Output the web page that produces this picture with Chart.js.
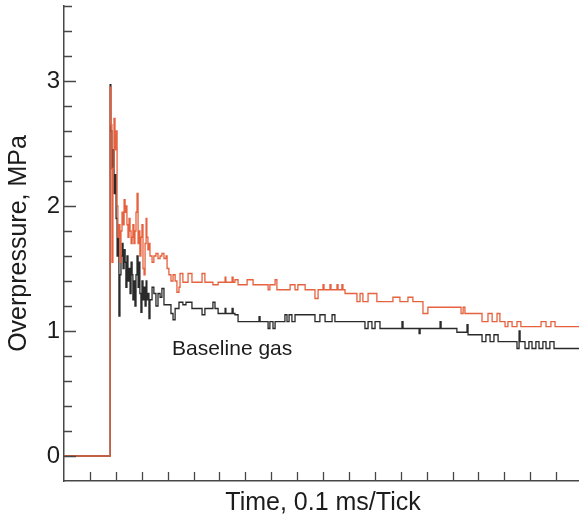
<!DOCTYPE html>
<html>
<head>
<meta charset="utf-8">
<title>Overpressure vs time</title>
<script src="https://cdn.jsdelivr.net/npm/chart.js@4/dist/chart.umd.min.js"></script>
<style>
  html, body { margin: 0; padding: 0; overflow: hidden; background: #fff; }
  #wrap { width: 590px; height: 517px; }
</style>
</head>
<body>
<div id="wrap"><canvas id="c" width="590" height="517"></canvas></div>
<script>
// Time in ticks (1 tick = 0.1 ms), overpressure in MPa.
const redTime = [
  0, 1.78, 1.81, 1.85, 1.89, 1.93, 1.97, 2.01, 2.05, 2.08, 2.12, 2.16, 2.20, 2.24, 2.28, 2.32,
  2.36, 2.39, 2.43, 2.47, 2.51, 2.55, 2.59, 2.63, 2.66, 2.70, 2.74, 2.78, 2.82, 2.86, 2.90, 2.93,
  2.97, 3.01, 3.05, 3.09, 3.13, 3.17, 3.20, 3.24, 3.28, 3.32, 3.40, 3.47, 3.55, 3.63, 3.71, 3.78,
  3.86, 3.94, 3.98, 4.05, 4.13, 4.21, 4.29, 4.36, 4.44, 4.48, 4.59, 4.79, 4.94, 5.33, 5.44, 5.75,
  5.95, 6.22, 6.25, 6.49, 6.53, 6.60, 6.72, 7.07, 7.30, 7.88, 7.95, 8.15, 8.22, 8.73, 8.92, 9.03,
  9.31, 9.69, 9.81, 10.00, 10.04, 10.27, 10.31, 10.54, 10.58, 10.73, 10.77, 10.85, 11.31, 11.43,
  11.54, 11.74, 12.08, 12.70, 12.97, 13.28, 13.47, 13.86, 14.05, 15.33, 15.41, 15.48, 16.14, 16.37,
  16.53, 16.72, 16.83, 17.03, 17.14, 17.30, 17.49, 17.64, 18.42, 18.61, 18.80, 18.96, 20.0
];
const redPressure = [
  0, 2.95, 2.65, 1.55, 2.30, 2.70, 2.45, 2.60, 2.00, 1.75, 1.85, 1.55, 1.80, 1.95, 1.85, 2.05,
  1.95, 2.00, 1.85, 1.75, 1.90, 1.80, 1.70, 1.75, 1.85, 1.70, 1.80, 1.95, 2.10, 1.70, 1.80, 1.60,
  1.75, 1.85, 1.50, 1.45, 1.70, 1.90, 1.75, 1.65, 1.70, 1.60, 1.55, 1.60, 1.62, 1.58, 1.60, 1.62,
  1.58, 1.60, 1.50, 1.45, 1.40, 1.45, 1.40, 1.31, 1.35, 1.46, 1.39, 1.46, 1.39, 1.46, 1.39, 1.37,
  1.39, 1.43, 1.39, 1.43, 1.39, 1.41, 1.37, 1.41, 1.37, 1.33, 1.37, 1.41, 1.33, 1.37, 1.33, 1.37,
  1.33, 1.26, 1.33, 1.37, 1.33, 1.37, 1.33, 1.37, 1.33, 1.37, 1.33, 1.30, 1.235, 1.30,
  1.235, 1.30, 1.235, 1.27, 1.235, 1.27, 1.235, 1.14, 1.19, 1.14, 1.19, 1.14, 1.075, 1.14,
  1.075, 1.14, 1.075, 1.035, 1.075, 1.035, 1.075, 1.035, 1.075, 1.035, 1.075, 1.035, 1.035
];

const blackTime = [
  0, 1.78, 1.81, 1.85, 1.89, 1.93, 1.97, 2.01, 2.05, 2.08, 2.12, 2.16, 2.20, 2.24, 2.28, 2.32,
  2.36, 2.39, 2.43, 2.47, 2.51, 2.55, 2.59, 2.63, 2.66, 2.70, 2.74, 2.78, 2.82, 2.86, 2.90, 2.93,
  2.97, 3.01, 3.05, 3.09, 3.13, 3.17, 3.20, 3.24, 3.28, 3.32, 3.40, 3.47, 3.55, 3.63, 3.71, 3.78,
  3.86, 4.13, 4.21, 4.29, 4.44, 4.59, 4.71, 4.94, 5.33, 5.44, 5.75, 5.83, 5.95, 6.22, 6.25, 6.49,
  6.53, 6.60, 6.72, 7.53, 7.57, 7.88, 7.95, 8.07, 8.15, 8.53, 8.61, 8.69, 8.80, 8.92, 9.69, 9.88,
  10.08, 10.35, 10.46, 11.62, 11.74, 11.89, 12.01, 12.20, 13.05, 13.09, 13.71, 13.75, 14.52, 14.56,
  15.17, 15.56, 15.60, 16.14, 16.29, 16.45, 16.60, 16.76, 17.49, 17.57, 17.61, 17.80, 17.95, 18.07,
  18.22, 18.34, 18.49, 18.61, 18.76, 18.92, 20.0
];
const blackPressure = [
  0, 2.97, 2.60, 2.30, 2.45, 2.10, 2.25, 1.90, 1.60, 1.75, 1.12, 1.45, 1.60, 1.70, 1.50, 1.65,
  1.55, 1.35, 1.60, 1.40, 1.50, 1.30, 1.55, 1.45, 1.25, 1.40, 1.20, 1.45, 1.60, 1.35, 1.55, 1.30,
  1.15, 1.40, 1.25, 1.35, 1.20, 1.40, 1.25, 1.30, 1.10, 1.25, 1.35, 1.30, 1.20, 1.30, 1.27, 1.34,
  1.21, 1.14, 1.09, 1.18, 1.23, 1.21, 1.23, 1.18, 1.13, 1.18, 1.23, 1.18, 1.14, 1.18, 1.14, 1.18,
  1.14, 1.13, 1.075, 1.115, 1.075, 1.02, 1.075, 1.02, 1.075, 1.13, 1.075, 1.13, 1.075, 1.13, 1.075, 1.13,
  1.075, 1.13, 1.075, 1.02, 1.075, 1.02, 1.075, 1.02, 1.075, 1.02, 0.98, 1.02, 1.075, 1.02,
  0.99, 1.05, 0.97, 0.915, 0.97, 0.915, 0.97, 0.915, 0.86, 1.0, 0.915, 0.86, 0.915, 0.86,
  0.915, 0.86, 0.915, 0.86, 0.915, 0.86, 0.86
];

const yTickLabels = ['0', '1', '2', '3'];
const seriesLabel = 'Baseline gas';

const AXIS_COLOR = '#474747';
const TEXT_COLOR = '#1c1c1c';
const FONT = "'Liberation Sans', Arial, Helvetica, sans-serif";

const toPoints = (xs, ys) => xs.map((t, i) => ({ x: t, y: ys[i] }));

// Inward tick marks on both axes plus the in-plot series label.
const inwardTicks = {
  id: 'inwardTicks',
  afterDraw(chart) {
    const { ctx, chartArea, scales: { x, y } } = chart;
    ctx.save();
    ctx.strokeStyle = AXIS_COLOR;
    ctx.lineWidth = 1.3;
    ctx.beginPath();
    y.ticks.forEach(t => {
      if (t.value < -1e-6) return;
      const py = Math.round(y.getPixelForValue(t.value)) + 0.5;
      const major = Math.abs(t.value - Math.round(t.value)) < 1e-6;
      ctx.moveTo(chartArea.left, py);
      ctx.lineTo(chartArea.left + (major ? 12 : 8), py);
    });
    x.ticks.forEach(t => {
      if (t.value <= x.min + 1e-6) return;
      const px = Math.round(x.getPixelForValue(t.value)) + 0.5;
      ctx.moveTo(px, chartArea.bottom);
      ctx.lineTo(px, chartArea.bottom - 9);
    });
    ctx.stroke();

    ctx.fillStyle = TEXT_COLOR;
    ctx.font = '21px ' + FONT;
    ctx.textAlign = 'left';
    ctx.textBaseline = 'alphabetic';
    ctx.fillText(seriesLabel, x.getPixelForValue(4.17), y.getPixelForValue(0.81));
    ctx.restore();
  }
};

new Chart(document.getElementById('c'), {
  type: 'line',
  data: {
    datasets: [
      {
        label: 'Modified gas',
        data: toPoints(redTime, redPressure),
        borderColor: '#e6623f',
        borderWidth: 1.3,
        stepped: true,
        pointRadius: 0,
        fill: false
      },
      {
        label: seriesLabel,
        data: toPoints(blackTime, blackPressure),
        borderColor: '#2a2a2a',
        borderWidth: 1.3,
        stepped: true,
        pointRadius: 0,
        fill: false
      }
    ]
  },
  options: {
    responsive: false,
    animation: false,
    events: [],
    layout: { padding: { top: 6, right: 8, left: 0, bottom: 0 } },
    plugins: { legend: { display: false }, tooltip: { enabled: false } },
    scales: {
      x: {
        type: 'linear',
        min: 0,
        max: 20,
        grid: { display: false, drawTicks: false },
        border: { display: true, color: AXIS_COLOR, width: 1.5 },
        ticks: { display: false, stepSize: 1 },
        title: {
          display: true,
          text: 'Time, 0.1 ms/Tick',
          color: TEXT_COLOR,
          font: { family: FONT, size: 25, lineHeight: 1 },
          padding: { top: 0, bottom: 1 }
        },
        afterFit: s => { s.height = 36; s.paddingLeft = 0; s.paddingRight = 0; }
      },
      y: {
        type: 'linear',
        min: -0.2,
        max: 3.6,
        grid: { display: false, drawTicks: false },
        border: { display: true, color: AXIS_COLOR, width: 1.5 },
        ticks: {
          stepSize: 0.2,
          autoSkip: false,
          padding: 4,
          color: TEXT_COLOR,
          font: { family: FONT, size: 24 },
          callback: v => {
            const r = Math.round(v);
            return Math.abs(v - r) < 1e-6 && r >= 0 ? yTickLabels[r] : '';
          }
        },
        title: {
          display: true,
          text: 'Overpressure, MPa',
          color: TEXT_COLOR,
          font: { family: FONT, size: 25, lineHeight: 1 },
          padding: { top: 7, bottom: 0 }
        },
        afterFit: s => { s.width = 64; s.paddingTop = 0; s.paddingBottom = 0; }
      }
    }
  },
  plugins: [inwardTicks]
});
</script>
</body>
</html>
